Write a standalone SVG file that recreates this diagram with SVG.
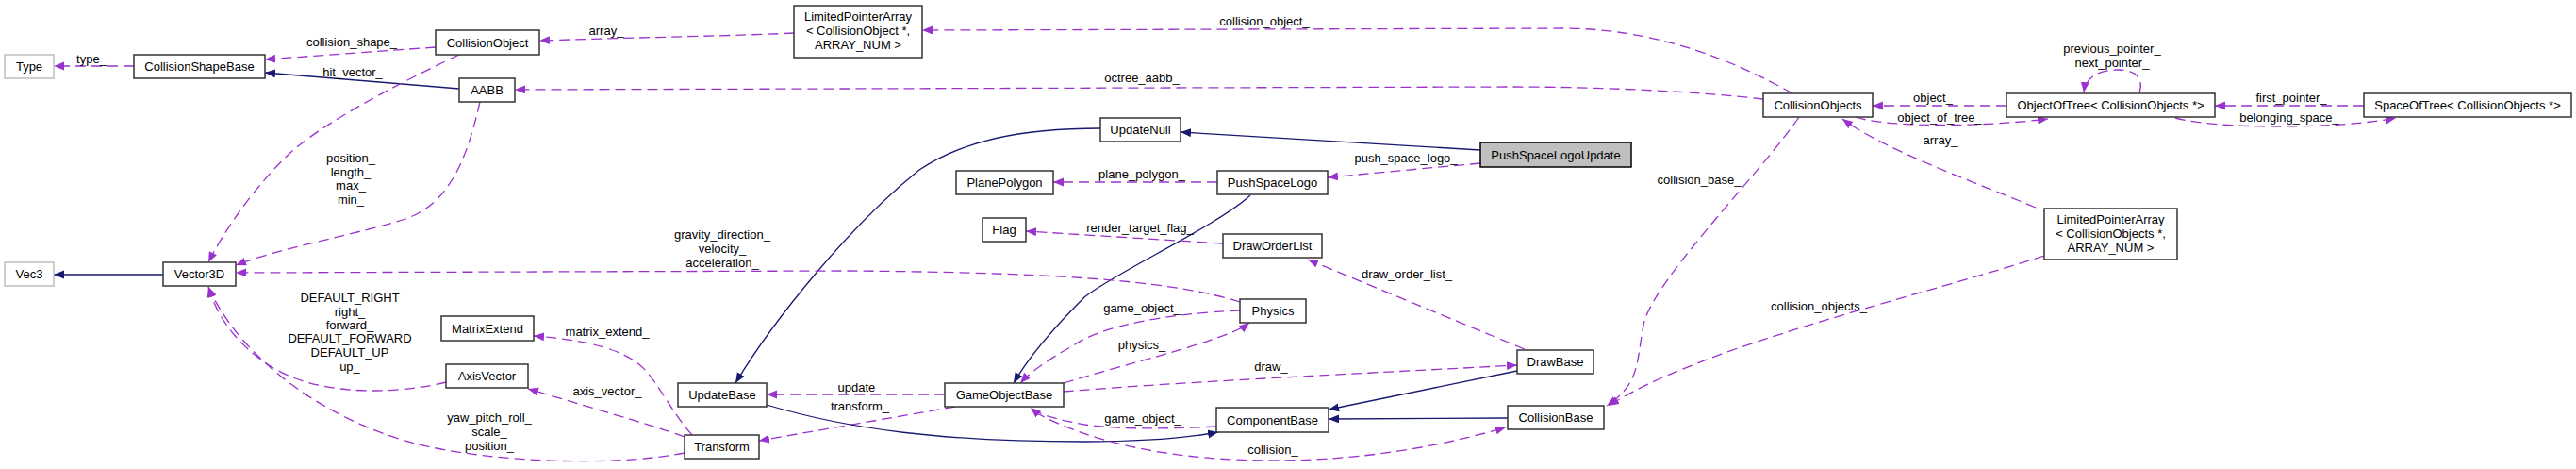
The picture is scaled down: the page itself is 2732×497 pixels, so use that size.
<svg xmlns="http://www.w3.org/2000/svg" width="2732" height="497" viewBox="0 0 2732 497">
<style>
text{font-family:"Liberation Sans",Arial,sans-serif;font-size:13px;fill:#000;text-anchor:middle}
.n rect{fill:#fff;stroke:#333;stroke-width:1.5}
.g rect{fill:#fff;stroke:#bfbfbf;stroke-width:1.5}
.cur rect{fill:#bfbfbf;stroke:#000;stroke-width:1.5}
.d{fill:none;stroke:#9a32cd;stroke-width:1.3;stroke-dasharray:11,6;marker-end:url(#ap)}
.s{fill:none;stroke:#191970;stroke-width:1.3;marker-end:url(#an)}
</style>
<defs>
<marker id="ap" markerWidth="12" markerHeight="10" refX="11" refY="4.5" orient="auto" markerUnits="userSpaceOnUse"><path d="M0,0 L11,4.5 L0,9 z" fill="#9a32cd"/></marker>
<marker id="an" markerWidth="12" markerHeight="10" refX="11" refY="4.5" orient="auto" markerUnits="userSpaceOnUse"><path d="M0,0 L11,4.5 L0,9 z" fill="#191970"/></marker>
</defs>
<rect width="2732" height="497" fill="#fff"/>
<g id="edges">
<path class="d" d="M142,70 L57,70"/>
<path class="d" d="M462,50 L281,63"/>
<path class="s" d="M487,94 L281,77"/>
<path class="d" d="M487,58 C440,80 350,125 310,160 C275,192 240,240 221,278"/>
<path class="d" d="M509,108 C497,160 480,215 430,232 C380,248 300,262 250,281"/>
<path class="d" d="M842,35 C780,38 700,39 572,43"/>
<path class="d" d="M1901,99 C1840,65 1760,31 1660,30 L978,32"/>
<path class="d" d="M1870,105 C1800,97 1700,92 1600,92 L546,95"/>
<path class="s" d="M1570,159 L1252,140"/>
<path class="d" d="M1570,173 L1408,188"/>
<path class="s" d="M1167,136 C1080,136 1020,150 975,180 C900,240 820,340 780,406"/>
<path class="s" d="M1326,207 C1290,240 1180,290 1150,315 C1120,345 1090,380 1075,406"/>
<path class="d" d="M1291,193 L1117,193"/>
<path class="d" d="M1297,258 L1088,245"/>
<path class="d" d="M1315,320 C1250,300 1150,289 900,287 L250,289"/>
<path class="d" d="M1315,329 C1240,332 1170,345 1140,365 C1110,382 1092,395 1082,406"/>
<path class="d" d="M1128,406 C1180,390 1240,375 1270,365 C1300,355 1315,350 1325,342"/>
<path class="d" d="M1128,415 C1250,405 1400,398 1609,387"/>
<path class="d" d="M1002,418 L813,418"/>
<path class="d" d="M1013,431 L805,467"/>
<path class="s" d="M813,429 C900,455 1000,468 1150,468 C1220,468 1265,463 1292,458"/>
<path class="d" d="M1290,452 C1230,455 1170,455 1140,448 C1115,443 1100,438 1093,432"/>
<path class="d" d="M1098,437 C1150,465 1230,488 1350,488 C1450,488 1530,472 1597,453"/>
<path class="s" d="M1609,393 L1409,434"/>
<path class="s" d="M1599,443 L1409,444"/>
<path class="d" d="M1617,370 L1387,275"/>
<path class="d" d="M1908,124 C1870,180 1760,290 1744,340 C1735,380 1742,405 1704,430"/>
<path class="d" d="M2168,271 C2080,300 1900,345 1800,385 C1760,400 1730,415 1706,430"/>
<path class="d" d="M2128,112 L1986,112"/>
<path class="d" d="M1968,124 C2000,135 2100,135 2172,126"/>
<path class="d" d="M2159,220 C2100,195 2000,160 1954,126"/>
<path class="d" d="M2507,112 L2349,112"/>
<path class="d" d="M2307,125 C2350,137 2480,137 2541,125"/>
<path class="d" d="M2269,98 C2275,80 2260,74 2247,74 C2225,74 2212,82 2210,98"/>
<path class="d" d="M734,461 C715,440 700,410 685,393 C665,370 620,360 566,356"/>
<path class="d" d="M726,463 C690,450 620,430 560,412"/>
<path class="d" d="M726,480 C650,495 520,490 440,470 C330,440 250,370 221,304"/>
<path class="d" d="M473,405 C420,418 340,420 290,390 C250,365 230,335 221,304"/>
<path class="s" d="M173,291 L57,291"/>
</g>
<g id="labels">
<text x="97" y="67">type_</text>
<text x="373" y="49">collision_shape_</text>
<text x="374" y="81">hit_vector_</text>
<text x="643" y="37">array_</text>
<text x="372" y="172">position_</text>
<text x="372" y="187">length_</text>
<text x="372" y="201">max_</text>
<text x="372" y="216">min_</text>
<text x="371" y="320">DEFAULT_RIGHT</text>
<text x="371" y="335">right_</text>
<text x="371" y="349">forward_</text>
<text x="371" y="363">DEFAULT_FORWARD</text>
<text x="371" y="378">DEFAULT_UP</text>
<text x="371" y="393">up_</text>
<text x="644" y="356">matrix_extend_</text>
<text x="644" y="419">axis_vector_</text>
<text x="519" y="447">yaw_pitch_roll_</text>
<text x="519" y="462">scale_</text>
<text x="519" y="477">position_</text>
<text x="1341" y="27">collision_object_</text>
<text x="1211" y="87">octree_aabb_</text>
<text x="1211" y="189">plane_polygon_</text>
<text x="1209" y="246">render_target_flag_</text>
<text x="766" y="253">gravity_direction_</text>
<text x="766" y="268">velocity_</text>
<text x="766" y="283">acceleration_</text>
<text x="1211" y="331">game_object_</text>
<text x="1211" y="370">physics_</text>
<text x="1348" y="393">draw_</text>
<text x="912" y="415">update_</text>
<text x="912" y="435">transform_</text>
<text x="1212" y="448">game_object_</text>
<text x="1350" y="481">collision_</text>
<text x="1491" y="172">push_space_logo_</text>
<text x="1802" y="195">collision_base_</text>
<text x="1492" y="295">draw_order_list_</text>
<text x="1929" y="329">collision_objects_</text>
<text x="2050" y="108">object_</text>
<text x="2057" y="129">object_of_tree_</text>
<text x="2058" y="153">array_</text>
<text x="2240" y="56">previous_pointer_</text>
<text x="2240" y="71">next_pointer_</text>
<text x="2430" y="108">first_pointer_</text>
<text x="2428" y="129">belonging_space_</text>
</g>
<g id="Type" class="g"><rect x="5" y="58" width="52" height="25"/><text x="31" y="75">Type</text></g>
<g id="CollisionShapeBase" class="n"><rect x="142" y="58" width="139" height="25"/><text x="211.5" y="75">CollisionShapeBase</text></g>
<g id="CollisionObject" class="n"><rect x="462" y="32" width="110" height="26"/><text x="517" y="49.5">CollisionObject</text></g>
<g id="AABB" class="n"><rect x="487" y="83" width="59" height="25"/><text x="516.5" y="100">AABB</text></g>
<g id="Vec3" class="g"><rect x="5" y="278" width="52" height="25"/><text x="31" y="295">Vec3</text></g>
<g id="Vector3D" class="n"><rect x="173" y="278" width="77" height="25"/><text x="211.5" y="295">Vector3D</text></g>
<g id="MatrixExtend" class="n"><rect x="468" y="335" width="98" height="26"/><text x="517" y="352.5">MatrixExtend</text></g>
<g id="AxisVector" class="n"><rect x="473" y="386" width="87" height="25"/><text x="516.5" y="403">AxisVector</text></g>
<g id="LimitedPointerArrayCollisionObject" class="n"><rect x="842" y="6" width="136" height="55"/><text x="910" y="21.5">LimitedPointerArray</text><text x="910" y="37">&lt; CollisionObject *,</text><text x="910" y="52">ARRAY_NUM &gt;</text></g>
<g id="UpdateNull" class="n"><rect x="1167" y="125" width="85" height="25"/><text x="1209.5" y="142">UpdateNull</text></g>
<g id="PlanePolygon" class="n"><rect x="1014" y="181" width="103" height="25"/><text x="1065.5" y="198">PlanePolygon</text></g>
<g id="PushSpaceLogo" class="n"><rect x="1291" y="181" width="117" height="25"/><text x="1349.5" y="198">PushSpaceLogo</text></g>
<g id="Flag" class="n"><rect x="1042" y="231" width="46" height="25"/><text x="1065" y="248">Flag</text></g>
<g id="DrawOrderList" class="n"><rect x="1297" y="248" width="105" height="25"/><text x="1349.5" y="265">DrawOrderList</text></g>
<g id="Physics" class="n"><rect x="1315" y="317" width="70" height="25"/><text x="1350" y="334">Physics</text></g>
<g id="UpdateBase" class="n"><rect x="719" y="406" width="94" height="25"/><text x="766" y="423">UpdateBase</text></g>
<g id="GameObjectBase" class="n"><rect x="1002" y="406" width="126" height="25"/><text x="1065" y="423">GameObjectBase</text></g>
<g id="ComponentBase" class="n"><rect x="1290" y="432" width="119" height="26"/><text x="1349.5" y="449.5">ComponentBase</text></g>
<g id="Transform" class="n"><rect x="726" y="461" width="79" height="25"/><text x="765.5" y="478">Transform</text></g>
<g id="PushSpaceLogoUpdate" class="cur"><rect x="1570" y="151" width="160" height="26"/><text x="1650" y="168.5">PushSpaceLogoUpdate</text></g>
<g id="CollisionObjects" class="n"><rect x="1870" y="99" width="116" height="25"/><text x="1928" y="116">CollisionObjects</text></g>
<g id="DrawBase" class="n"><rect x="1609" y="371" width="81" height="25"/><text x="1649.5" y="388">DrawBase</text></g>
<g id="CollisionBase" class="n"><rect x="1599" y="430" width="102" height="25"/><text x="1650" y="447">CollisionBase</text></g>
<g id="ObjectOfTree" class="n"><rect x="2128" y="99" width="221" height="25"/><text x="2238.5" y="116">ObjectOfTree&lt; CollisionObjects *&gt;</text></g>
<g id="SpaceOfTree" class="n"><rect x="2507" y="99" width="220" height="25"/><text x="2617" y="116">SpaceOfTree&lt; CollisionObjects *&gt;</text></g>
<g id="LimitedPointerArrayCollisionObjects" class="n"><rect x="2168" y="221" width="141" height="54"/><text x="2238.5" y="236.5">LimitedPointerArray</text><text x="2238.5" y="251.5">&lt; CollisionObjects *,</text><text x="2238.5" y="266.5">ARRAY_NUM &gt;</text></g>
</svg>
